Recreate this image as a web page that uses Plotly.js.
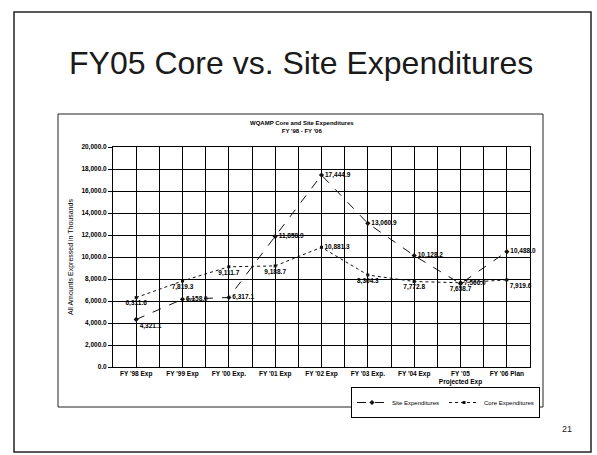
<!DOCTYPE html>
<html>
<head>
<meta charset="utf-8">
<script src="https://cdn.plot.ly/plotly-3.0.1.min.js"></script>
<style>
  html, body { margin: 0; padding: 0; background: #ffffff; overflow: hidden; }
  #chart { width: 597px; height: 455px; }
</style>
</head>
<body>
<div id="chart"></div>
<script>
// ---- data ----
const categories = ["FY '98 Exp", "FY '99 Exp", "FY '00 Exp.", "FY '01 Exp", "FY '02 Exp",
                    "FY '03 Exp.", "FY '04 Exp", "FY '05<br>Projected Exp", "FY '06 Plan"];
const siteValues = [4321.1, 6158.0, 6317.1, 11858.9, 17444.9, 13060.9, 10128.2, 7566.0, 10488.0];
const coreValues = [6311.6, 7819.3, 9111.7, 9188.7, 10881.3, 8364.3, 7772.8, 7658.7, 7919.6];
const seriesNames = ["Site Expenditures", "Core Expenditures"];
const yTicks = [0, 2000, 4000, 6000, 8000, 10000, 12000, 14000, 16000, 18000, 20000];

// ---- layout helpers (pixel -> paper) ----
const L = 113, R = 530, T = 147, B = 367, W = 597, H = 455;
const px = x => (x - L) / (R - L);
const py = y => (B - y) / (B - T);

const xPos = categories.map((c, i) => i + 0.5);
const boundaries = categories.map((c, i) => i).concat([categories.length]);

const siteTextPos = ['bottom right', 'middle right', 'middle right', 'middle right', 'middle right',
                     'middle right', 'middle right', 'middle right', 'middle right'];
const coreTextPos = ['bottom center', 'bottom center', 'bottom center', 'bottom center', 'middle right',
                     'bottom center', 'bottom center', 'bottom center', 'bottom right'];

const FF = 'Liberation Sans, Arial, sans-serif';
const labelFont = {family: FF, size: 6.5, color: '#000000', weight: 'bold'};

const traces = [
  {
    x: xPos, y: siteValues, name: seriesNames[0], type: 'scatter', mode: 'lines+markers+text',
    line: {color: '#111', width: 1, dash: 'dash'},
    marker: {symbol: 'diamond', size: 4, color: '#111'},
    texttemplate: '%{y:,.1f}', textposition: siteTextPos, textfont: labelFont,
    cliponaxis: false
  },
  {
    x: xPos, y: coreValues, name: seriesNames[1], type: 'scatter', mode: 'lines+markers+text',
    line: {color: '#111', width: 1, dash: 'dot'},
    marker: {symbol: 'square', size: 3, color: '#111'},
    texttemplate: '%{y:,.1f}', textposition: coreTextPos, textfont: labelFont,
    cliponaxis: false
  }
];

const layout = {
  width: W, height: H,
  margin: {l: L, r: W - R, t: T, b: H - B, pad: 0},
  paper_bgcolor: '#ffffff', plot_bgcolor: '#ffffff',
  font: {family: FF, color: '#000'},
  showlegend: true,
  legend: {
    orientation: 'h', x: px(540), y: py(387), xanchor: 'right', yanchor: 'top',
    bordercolor: '#000', borderwidth: 1, bgcolor: '#fff',
    font: {size: 6, family: FF},
    itemwidth: 30, tracegroupgap: 0
  },
  xaxis: {
    range: [0, categories.length], tickmode: 'array', tickvals: xPos, ticktext: categories,
    showgrid: true, gridcolor: '#000', gridwidth: 1,
    minor: {tickmode: 'array', tickvals: boundaries, showgrid: true, gridcolor: '#000', gridwidth: 1},
    showline: true, linecolor: '#000', linewidth: 1, mirror: true,
    ticks: '', tickangle: 0, zeroline: false,
    tickfont: {size: 6.5, family: FF, weight: 'bold'}
  },
  yaxis: {
    range: [0, 20000], tickmode: 'array', tickvals: yTicks, tickformat: ',.1f',
    showgrid: true, gridcolor: '#000', gridwidth: 1,
    showline: true, linecolor: '#000', linewidth: 1, mirror: true,
    ticks: 'outside', ticklen: 4, tickcolor: '#000', zeroline: false,
    tickfont: {size: 6.5, family: FF, weight: 'bold'},
    title: {text: 'All Amounts Expressed in Thousands', standoff: 6,
            font: {size: 7, family: FF}}
  },
  annotations: [
    {text: 'FY05 Core vs. Site Expenditures', xref: 'paper', yref: 'paper',
     x: px(301), y: py(63), xanchor: 'center', yanchor: 'middle', showarrow: false,
     font: {size: 32, family: FF, color: '#1a1a1a'}},
    {text: 'WQAMP Core and Site Expenditures<br>FY \'98 - FY \'06', xref: 'paper', yref: 'paper',
     x: px(302), y: py(127), xanchor: 'center', yanchor: 'middle', showarrow: false,
     font: {size: 6, family: FF, color: '#000', weight: 'bold'}},
    {text: '21', xref: 'paper', yref: 'paper',
     x: px(567), y: py(429), xanchor: 'center', yanchor: 'middle', showarrow: false,
     font: {size: 9, family: FF, color: '#222'}}
  ],
  shapes: [
    {type: 'rect', xref: 'paper', yref: 'paper', x0: px(14), x1: px(591), y0: py(452), y1: py(12),
     line: {color: '#222', width: 1.5}, layer: 'below'},
    {type: 'rect', xref: 'paper', yref: 'paper', x0: px(58), x1: px(543), y0: py(407), y1: py(114),
     line: {color: '#222', width: 1}, layer: 'below'}
  ]
};

Plotly.newPlot('chart', traces, layout, {staticPlot: true, displayModeBar: false});
</script>
</body>
</html>
